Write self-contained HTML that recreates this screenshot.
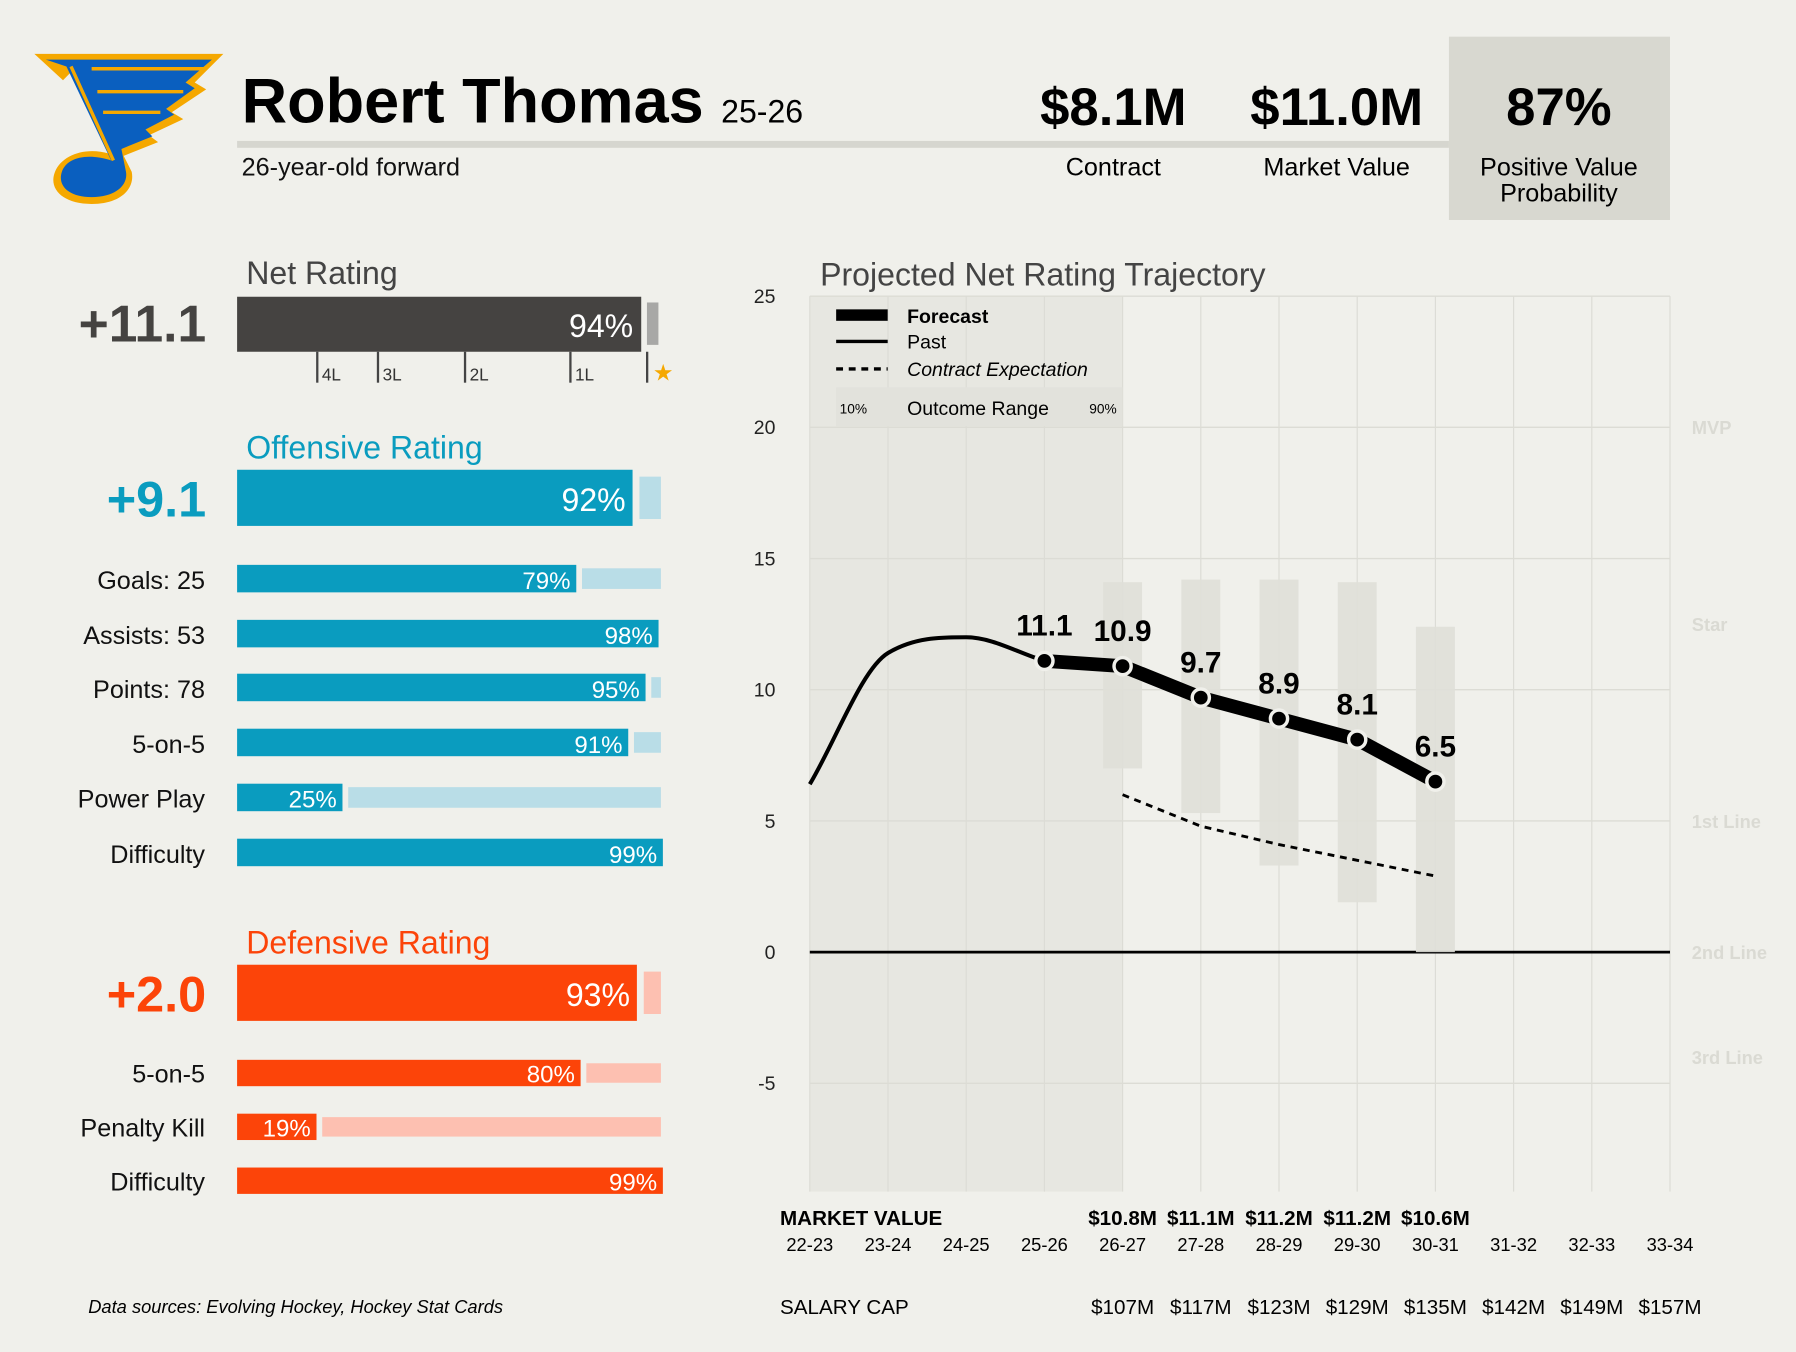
<!DOCTYPE html>
<html><head><meta charset="utf-8"><style>
html,body{margin:0;padding:0;background:#f0f0eb;}
svg{display:block;font-family:"Liberation Sans Narrow","Liberation Sans",sans-serif;}
</style></head><body>
<svg id="root" width="1796" height="1352" viewBox="0 0 1568 1180" preserveAspectRatio="none" xmlns="http://www.w3.org/2000/svg">
<rect x="0" y="0" width="1568" height="1180" fill="#f0f0eb"/>
<g>
<path d="M30,47 L195,47 L170,72 L180,78 L150,98 L160,104 L130,118 L138,124 L108,136 L115,150 C118,165 105,178 80,178 C55,178 42,165 48,150 C54,135 75,128 95,134 L62,63 L55,70 Z" fill="#f5a800"/>
<path d="M40,52 L185,52 L162,72 L170,77 L145,95 L152,100 L127,113 L133,119 L106,130 L110,150 C112,162 100,172 80,172 C60,172 50,162 54,150 C58,138 75,133 97,140 L58,58 Z" fill="#0a5fbf"/>
<path d="M62,58 L99,140" stroke="#f5a800" stroke-width="3" fill="none"/>
<path d="M80,60 L180,60 M85,80 L160,80 M90,98 L140,98" stroke="#f5a800" stroke-width="3" fill="none"/>
</g>
<text x="211" y="107" font-size="55" font-weight="bold" fill="#000">Robert Thomas <tspan font-size="28" font-weight="normal">25-26</tspan></text>
<rect x="207" y="123" width="1058" height="6" fill="#d6d6cf"/>
<text x="211" y="153" font-size="22" fill="#111">26-year-old forward</text>
<text x="972" y="109" font-size="46" font-weight="bold" text-anchor="middle">$8.1M</text>
<text x="972" y="153" font-size="22" text-anchor="middle">Contract</text>
<text x="1167" y="109" font-size="46" font-weight="bold" text-anchor="middle">$11.0M</text>
<text x="1167" y="153" font-size="22" text-anchor="middle">Market Value</text>
<rect x="1265" y="32" width="193" height="160" fill="#d8d8d0"/>
<text x="1361" y="109" font-size="46" font-weight="bold" text-anchor="middle">87%</text>
<text x="1361" y="153" font-size="22" text-anchor="middle">Positive Value</text>
<text x="1361" y="176" font-size="22" text-anchor="middle">Probability</text>

<g id="left"></g>
<g id="chart"></g>
<text x="77" y="1146" font-size="16" font-style="italic">Data sources: Evolving Hockey, Hockey Stat Cards</text>
</svg>
<script>
const NS="http://www.w3.org/2000/svg";
function mk(parent,tag,attrs,txt){const e=document.createElementNS(NS,tag);for(const k in attrs)e.setAttribute(k,attrs[k]);if(txt!==undefined)e.textContent=txt;parent.appendChild(e);return e;}

const offLabels=["Goals: 25","Assists: 53","Points: 78","5-on-5","Power Play","Difficulty"];
const offPcts=[79,98,95,91,25,99];
const defLabels=["5-on-5","Penalty Kill","Difficulty"];
const defPcts=[80,19,99];
const netPct=94, offPct=92, defPct=93;

const L=document.getElementById('left');
const bx=207, scaleX=3.78, x0=204.5, bend=577;
function px(p){return x0+p*scaleX;}
let t=mk(L,'text',{x:215,y:248,'font-size':28,fill:'#444'},'Net Rating');

t=mk(L,'text',{x:180,y:298,'font-size':45,'font-weight':'bold',fill:'#454341','text-anchor':'end'},'+11.1');

let r=mk(L,'rect',{x:bx,y:259,width:px(netPct)-bx,height:48,fill:'#454341'});

r=mk(L,'rect',{x:px(netPct)+5,y:264,width:10,height:37,fill:'#a8a8a6'});

t=mk(L,'text',{x:px(netPct)-7,y:294,'font-size':28,fill:'#fff','text-anchor':'end'},netPct+'%');

const tiers=["4L","3L","2L","1L"], tierX=[277,330,406,498];
tiers.forEach((s,i)=>{mk(L,'line',{x1:tierX[i],x2:tierX[i],y1:307,y2:334,stroke:'#444','stroke-width':2});
 const tt=mk(L,'text',{x:tierX[i]+4,y:332,'font-size':15,fill:'#333'},s);
 });
mk(L,'line',{x1:565,x2:565,y1:307,y2:334,stroke:'#444','stroke-width':2});
t=mk(L,'text',{x:570,y:332,'font-size':20,fill:'#f5a800'},'★');


function section(title,color,light,y0,val,mainPct,labels,pcts,rowY,rowH,name){
 let tt=mk(L,'text',{x:215,y:y0,'font-size':28,fill:color},title);
 
 tt=mk(L,'text',{x:180,y:y0+51,'font-size':44,'font-weight':'bold',fill:color,'text-anchor':'end'},val);
 
 const my=y0+10;
 let rr=mk(L,'rect',{x:bx,y:my,width:px(mainPct)-bx,height:49,fill:color});
 
 rr=mk(L,'rect',{x:px(mainPct)+6,y:my+6,width:Math.max(0,bend-px(mainPct)-6),height:37,fill:light});
 
 tt=mk(L,'text',{x:px(mainPct)-6,y:my+36,'font-size':28,fill:'#fff','text-anchor':'end'},mainPct+'%');
 
 labels.forEach((lab,i)=>{const y=rowY[i];
  let a=mk(L,'text',{x:179,y:y+rowH-3,'font-size':22,fill:'#111','text-anchor':'end'},lab);
  
  let b=mk(L,'rect',{x:bx,y:y,width:px(pcts[i])-bx,height:rowH,fill:color});
  
  let c=mk(L,'rect',{x:px(pcts[i])+5,y:y+3,width:Math.max(0,bend-px(pcts[i])-5),height:rowH-6,fill:light});
  
  let d=mk(L,'text',{x:px(pcts[i])-5,y:y+rowH-3,'font-size':21,fill:'#fff','text-anchor':'end'},pcts[i]+'%');
  
 });
}
section('Offensive Rating','#0a9cbf','#b9dde7',400,'+9.1',offPct,offLabels,offPcts,[493,541,588,636,684,732],24,'offensive');
section('Defensive Rating','#fc4409','#fdc0b1',832,'+2.0',defPct,defLabels,defPcts,[925,972,1019],23,'defensive');

const seasons=["22-23","23-24","24-25","25-26","26-27","27-28","28-29","29-30","30-31","31-32","32-33","33-34"];
const pastVals=[6.4,11.4,12.0,11.1];
const forecastVals=[11.1,10.9,9.7,8.9,8.1,6.5];
const rangeLow=[7.0,5.3,3.3,1.9,0.0];
const rangeHigh=[14.1,14.2,14.2,14.1,12.4];
const contractVals=[6.0,4.8,4.1,3.5,2.9];
const marketValues=["$10.8M","$11.1M","$11.2M","$11.2M","$10.6M"];
const salaryCap=["$107M","$117M","$123M","$129M","$135M","$142M","$149M","$157M"];
const yTicks=[25,20,15,10,5,0,-5];
const tierNames=["MVP","Star","1st Line","2nd Line","3rd Line"];
const tierVals=[20,12.5,5,0,-4];

const C=document.getElementById('chart');
const X0=707,DX=(1458-707)/11;
function xs(i){return X0+i*DX;}
function ys(v){return 831-v*22.9;}
const bottom=1040;
let e=mk(C,'rect',{x:X0,y:ys(25),width:xs(4)-X0,height:bottom-ys(25),fill:'#e7e7e1'});

seasons.forEach((s,i)=>{mk(C,'line',{x1:xs(i),x2:xs(i),y1:ys(25),y2:bottom,stroke:'#dcdcd5','stroke-width':1});});
yTicks.forEach(v=>{mk(C,'line',{x1:X0,x2:1458,y1:ys(v),y2:ys(v),stroke:v===0?'#000':'#dcdcd5','stroke-width':v===0?2.5:1.2});
 const tt=mk(C,'text',{x:677,y:ys(v)+6,'font-size':17,fill:'#222','text-anchor':'end'},String(v));
 });
tierNames.forEach((n,i)=>{const tt=mk(C,'text',{x:1477,y:ys(tierVals[i])+6,'font-size':16,'font-weight':'bold',fill:'#dadad3'},n);
 });
e=mk(C,'text',{x:716,y:249,'font-size':28,fill:'#444'},'Projected Net Rating Trajectory');

e=mk(C,'rect',{x:730,y:270,width:45,height:10,fill:'#000'});
mk(C,'line',{x1:730,x2:775,y1:298,y2:298,stroke:'#000','stroke-width':3});
mk(C,'line',{x1:730,x2:775,y1:322,y2:322,stroke:'#000','stroke-width':3,'stroke-dasharray':'6,5'});
e=mk(C,'text',{x:792,y:282,'font-size':17,'font-weight':'bold'},'Forecast');
e=mk(C,'text',{x:792,y:304,'font-size':17},'Past');
e=mk(C,'text',{x:792,y:328,'font-size':17,'font-style':'italic'},'Contract Expectation');
e=mk(C,'rect',{x:730,y:338,width:250,height:34,fill:'#e2e2dc'});
mk(C,'text',{x:733,y:361,'font-size':12},'10%');
mk(C,'text',{x:792,y:362,'font-size':17},'Outcome Range');
mk(C,'text',{x:951,y:361,'font-size':12},'90%');
rangeLow.forEach((lo,i)=>{const x=xs(4+i);
 const b=mk(C,'rect',{x:x-17,y:ys(rangeHigh[i]),width:34,height:ys(lo)-ys(rangeHigh[i]),fill:'#dfdfd8',opacity:0.9});
 });
let d='';contractVals.forEach((v,i)=>{d+=(i?'L':'M')+xs(4+i)+','+ys(v);});
e=mk(C,'path',{d:d,fill:'none',stroke:'#000','stroke-width':2.5,'stroke-dasharray':'6,5'});

// past curve: monotone cubic
const pp=pastVals.map((v,i)=>[xs(i),ys(v)]);
const n=pp.length, sl=[], m=[];
for(let i=0;i<n-1;i++)sl.push((pp[i+1][1]-pp[i][1])/(pp[i+1][0]-pp[i][0]));
m[0]=sl[0];m[n-1]=sl[n-2];
for(let i=1;i<n-1;i++){m[i]=(sl[i-1]*sl[i]<=0)?0:(sl[i-1]+sl[i])/2;}
for(let i=0;i<n-1;i++){if(sl[i]===0){m[i]=m[i+1]=0;continue;}const a=m[i]/sl[i],b=m[i+1]/sl[i],s=a*a+b*b;if(s>9){const tt=3/Math.sqrt(s);m[i]=tt*a*sl[i];m[i+1]=tt*b*sl[i];}}
d='M'+pp[0][0]+','+pp[0][1];
for(let i=0;i<n-1;i++){const h=(pp[i+1][0]-pp[i][0])/3;
 d+=`C${pp[i][0]+h},${pp[i][1]+m[i]*h} ${pp[i+1][0]-h},${pp[i+1][1]-m[i+1]*h} ${pp[i+1][0]},${pp[i+1][1]}`;}
e=mk(C,'path',{d:d,fill:'none',stroke:'#000','stroke-width':3.5});

d='';forecastVals.forEach((v,i)=>{d+=(i?'L':'M')+xs(3+i)+','+ys(v);});
e=mk(C,'path',{d:d,fill:'none',stroke:'#000','stroke-width':12,'stroke-linejoin':'round'});

forecastVals.forEach((v,i)=>{const x=xs(3+i),y=ys(v);
 const c=mk(C,'circle',{cx:x,cy:y,r:7.5,fill:'#000',stroke:'#f0f0eb','stroke-width':3});
 
 const tt=mk(C,'text',{x:x,y:y-22,'font-size':26,'font-weight':'bold','text-anchor':'middle'},v.toFixed(1));
 });
e=mk(C,'text',{x:681,y:1069,'font-size':18,'font-weight':'bold'},'MARKET VALUE');
marketValues.forEach((mv,i)=>{const tt=mk(C,'text',{x:xs(4+i),y:1069,'font-size':18,'font-weight':'bold','text-anchor':'middle'},mv);
 });
seasons.forEach((s,i)=>{const tt=mk(C,'text',{x:xs(i),y:1092,'font-size':16,'text-anchor':'middle'},s);
 });
e=mk(C,'text',{x:681,y:1147,'font-size':18},'SALARY CAP');
salaryCap.forEach((mv,i)=>{const tt=mk(C,'text',{x:xs(4+i),y:1147,'font-size':18,'text-anchor':'middle'},mv);
 });
</script>
</body></html>
